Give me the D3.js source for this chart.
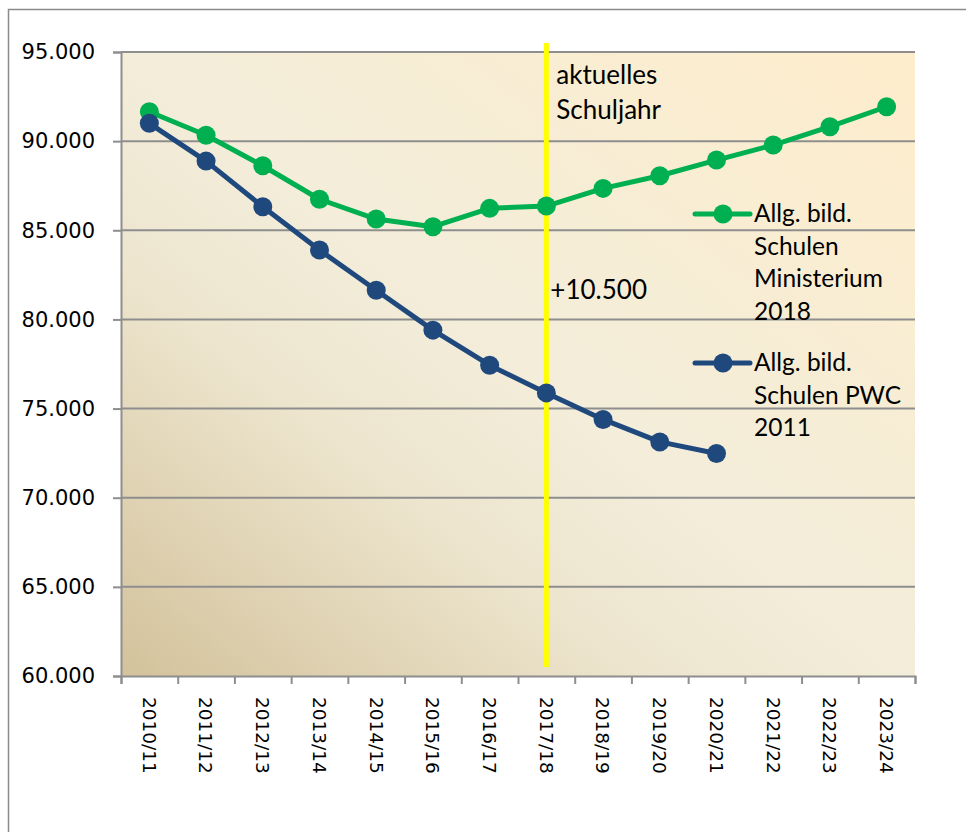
<!DOCTYPE html>
<html>
<head>
<meta charset="utf-8">
<script src="https://cdn.jsdelivr.net/npm/d3@7/dist/d3.min.js"></script>
<style>
  body { margin: 0; background: #fff; }
  .tick text { fill: #000; }
</style>
</head>
<body>
<div id="chart"></div>
<script>
var years = ['2010/11','2011/12','2012/13','2013/14','2014/15','2015/16','2016/17',
             '2017/18','2018/19','2019/20','2020/21','2021/22','2022/23','2023/24'];
var ministerium = [91650, 90330, 88620, 86740, 85630, 85200, 86230,
                   86360, 87350, 88060, 88940, 89780, 90810, 91930];
var pwc = [91000, 88880, 86320, 83890, 81640, 79400, 77430,
           75880, 74390, 73130, 72480];
var yTicks = [60000, 65000, 70000, 75000, 80000, 85000, 90000, 95000];
var seriesNames = [['Allg. bild.', 'Schulen', 'Ministerium', '2018'],
                   ['Allg. bild.', 'Schulen PWC', '2011']];
var currentYear = '2017/18';
var currentLabel = ['aktuelles', 'Schuljahr'];
var diffLabel = '+10.500';

var w = 966, h = 832;
var plotLeft = 121, plotRight = 915, plotTop = 52, plotBottom = 676;
var colors = ['#00B050', '#1F497D'];
var gridColor = '#8e8e8e';

var de = d3.formatLocale({decimal: ',', thousands: '.', grouping: [3], currency: ['', '€']});
var fmt = de.format(',.0f');

var svg = d3.select('#chart')
    .append('svg')
    .attr('width', w)
    .attr('height', h);

// outer chart frame
svg.append('rect')
    .attr('x', 8.5).attr('y', 9.5)
    .attr('width', w).attr('height', h)
    .attr('fill', '#fff')
    .attr('stroke', '#8a8a8a')
    .attr('stroke-width', 1.5);

var defs = svg.append('defs');
var grad = defs.append('linearGradient')
    .attr('id', 'bg')
    .attr('x1', 0).attr('y1', 1)
    .attr('x2', 1).attr('y2', 0);
grad.append('stop').attr('offset', '0%').attr('stop-color', '#D3C29B');
grad.append('stop').attr('offset', '33%').attr('stop-color', '#EDE5CE');
grad.append('stop').attr('offset', '50%').attr('stop-color', '#F3EDDA');
grad.append('stop').attr('offset', '100%').attr('stop-color', '#FEEDCC');

var xScale = d3.scaleBand()
    .domain(years)
    .range([plotLeft, plotRight]);
var bw = xScale.bandwidth();

var yScale = d3.scaleLinear()
    .domain([60000, 95000])
    .range([plotBottom, plotTop]);

// plot area
svg.append('rect')
    .attr('x', plotLeft).attr('y', plotTop)
    .attr('width', plotRight - plotLeft).attr('height', plotBottom - plotTop)
    .attr('fill', 'url(#bg)');

// gridlines
svg.selectAll('gridline')
    .data(yTicks.slice(1))
    .enter()
    .append('line')
    .attr('x1', plotLeft).attr('x2', plotRight)
    .attr('y1', function(d){ return yScale(d); })
    .attr('y2', function(d){ return yScale(d); })
    .attr('stroke', gridColor)
    .attr('stroke-width', 2);

// y axis
var yAxis = d3.axisLeft(yScale)
    .tickValues(yTicks)
    .tickSize(8)
    .tickPadding(18)
    .tickFormat(fmt);

var gy = svg.append('g')
    .attr('transform', 'translate(' + plotLeft + ',0)')
    .call(yAxis);
gy.selectAll('.domain').attr('stroke', gridColor).attr('stroke-width', 2);
gy.selectAll('.tick line').attr('stroke', gridColor).attr('stroke-width', 2);
gy.selectAll('.tick text')
    .style('font-family', '"DejaVu Sans", Verdana, sans-serif')
    .style('font-size', '21px');

// x axis: tick marks at band edges, labels at band centres
var edgeScale = d3.scaleLinear().domain([0, years.length]).range([plotLeft, plotRight]);
var xAxis = d3.axisBottom(edgeScale)
    .tickValues(d3.range(years.length + 1))
    .tickSize(8)
    .tickFormat('');

var gx = svg.append('g')
    .attr('transform', 'translate(0,' + plotBottom + ')')
    .call(xAxis);
gx.selectAll('.domain').attr('stroke', gridColor).attr('stroke-width', 2);
gx.selectAll('.tick line').attr('stroke', gridColor).attr('stroke-width', 2);

svg.selectAll('xlabel')
    .data(years)
    .enter()
    .append('text')
    .attr('transform', function(d){
        return 'translate(' + (xScale(d) + bw / 2) + ',' + (plotBottom + 21) + ') rotate(90)';
    })
    .attr('dy', '0.36em')
    .style('text-anchor', 'start')
    .style('font-family', '"DejaVu Sans", Verdana, sans-serif')
    .style('font-size', '18.5px')
    .text(function(d){ return d; });

// current school year marker
var cx = xScale(currentYear) + bw / 2;
svg.append('line')
    .attr('x1', cx).attr('x2', cx)
    .attr('y1', yScale(95500)).attr('y2', yScale(60500))
    .attr('stroke', '#FFFF00')
    .attr('stroke-width', 5);

var labelFont = 'Lato, "Open Sans", sans-serif';

svg.selectAll('curlabel')
    .data(currentLabel)
    .enter()
    .append('text')
    .attr('x', cx + 10)
    .attr('y', function(d, i){ return 84 + i * 35; })
    .style('font-family', labelFont)
    .style('font-size', '26px')
    .text(function(d){ return d; });

svg.append('text')
    .attr('x', cx + 4)
    .attr('y', 299)
    .style('font-family', labelFont)
    .style('font-size', '26px')
    .text(diffLabel);

// series
var series = [ministerium, pwc];
var line = d3.line()
    .x(function(d, i){ return xScale(years[i]) + bw / 2; })
    .y(function(d){ return yScale(d); });

series.forEach(function(vals, s){
    svg.append('path')
        .datum(vals)
        .attr('d', line)
        .attr('fill', 'none')
        .attr('stroke', colors[s])
        .attr('stroke-width', 5)
        .attr('stroke-linejoin', 'round');

    svg.selectAll('dots' + s)
        .data(vals)
        .enter()
        .append('circle')
        .attr('cx', function(d, i){ return xScale(years[i]) + bw / 2; })
        .attr('cy', function(d){ return yScale(d); })
        .attr('r', 9.5)
        .attr('fill', colors[s]);
});

// legend
var legendY = [214, 363];
seriesNames.forEach(function(lines, s){
    var g = svg.append('g').attr('transform', 'translate(695,' + legendY[s] + ')');
    g.append('line')
        .attr('x1', 0).attr('x2', 55)
        .attr('stroke', colors[s])
        .attr('stroke-width', 5)
        .attr('stroke-linecap', 'round');
    g.append('circle')
        .attr('cx', 28).attr('r', 9.5)
        .attr('fill', colors[s]);
    g.selectAll('ltext')
        .data(lines)
        .enter()
        .append('text')
        .attr('x', 59)
        .attr('y', function(d, i){ return 8 + i * 32.5; })
        .style('font-family', labelFont)
        .style('font-size', '24.5px')
        .text(function(d){ return d; });
});
</script>
</body>
</html>
